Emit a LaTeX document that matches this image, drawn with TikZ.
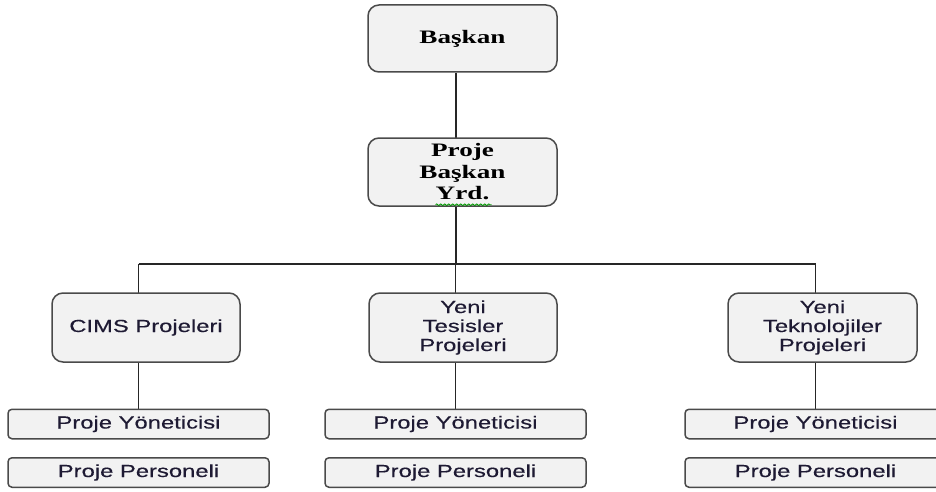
\documentclass[tikz,border=0pt]{standalone}
\usepackage{fontspec}
\newfontfamily\orgserif[FakeStretch=1.43]{Liberation Serif}
\newfontfamily\orgsans[FakeStretch=1.36,FakeBold=0.35]{Liberation Sans}
\usetikzlibrary{backgrounds,decorations.pathmorphing}
\definecolor{boxfill}{HTML}{F2F2F2}
\definecolor{boxline}{HTML}{4A4A4A}
\definecolor{labelink}{HTML}{1E1A33}

\begin{document}
\begin{tikzpicture}[x=1pt,y=-1pt,
  card/.style={draw=boxline, line width=1.5pt, fill=boxfill,
    rounded corners=11pt, inner sep=0pt, align=center},
  headcard/.style={card, minimum width=189pt, minimum height=67pt,
    font=\orgserif\bfseries\fontsize{19}{21.5}\selectfont},
  unitcard/.style={card, minimum width=188pt, minimum height=69pt,
    text=labelink, font=\orgsans\fontsize{17.5}{19}\selectfont},
  rolecard/.style={card, rounded corners=4pt, minimum width=261pt,
    minimum height=29.5pt, text=labelink,
    font=\orgsans\fontsize{17.5}{19}\selectfont},
  link/.style={draw=black!85, line width=1.3pt},
  spell/.style={draw=green!60!black, line width=0.8pt, decorate,
    decoration={snake, amplitude=0.9pt, segment length=4pt}}]

\useasboundingbox (0,0) rectangle (936,492);

% management chain
\node[headcard] (chief) at (462.5,38.5) {Başkan};
\node[headcard, minimum height=68pt] (deputy) at (462.5,172) {Proje\\Başkan\\Yrd.};

% project groups
\node[unitcard] (cims) at (146,327.5) {CIMS Projeleri};
\node[unitcard] (facil) at (463,327.5) {Yeni\\Tesisler\\Projeleri};
\node[unitcard, minimum width=189pt] (tech) at (822.5,327.5) {Yeni\\Teknolojiler\\Projeleri};

% staff rows under each group
\node[rolecard] (mgrA) at (138.5,424) {Proje Yöneticisi};
\node[rolecard] (staffA) at (138.5,472.5) {Proje Personeli};
\node[rolecard] (mgrB) at (455.5,424) {Proje Yöneticisi};
\node[rolecard] (staffB) at (455.5,472.5) {Proje Personeli};
\node[rolecard] (mgrC) at (815.5,424) {Proje Yöneticisi};
\node[rolecard] (staffC) at (815.5,472.5) {Proje Personeli};

\coordinate (hub) at (456,264);

% spell-check underline below "Yrd."
\draw[spell] ([xshift=-27pt,yshift=2pt]deputy.south) -- ([xshift=29pt,yshift=2pt]deputy.south);

\begin{scope}[on background layer]
  \draw[link] (chief.south -| hub) -- (hub);
  \draw[link] (mgrA.north |- hub) -- (mgrC.north |- hub);
  \draw[link] (mgrA.north |- hub) -- (mgrA.north);
  \draw[link] (mgrB.north |- hub) -- (mgrB.north);
  \draw[link] (mgrC.north |- hub) -- (mgrC.north);
\end{scope}
\end{tikzpicture}
\end{document}
